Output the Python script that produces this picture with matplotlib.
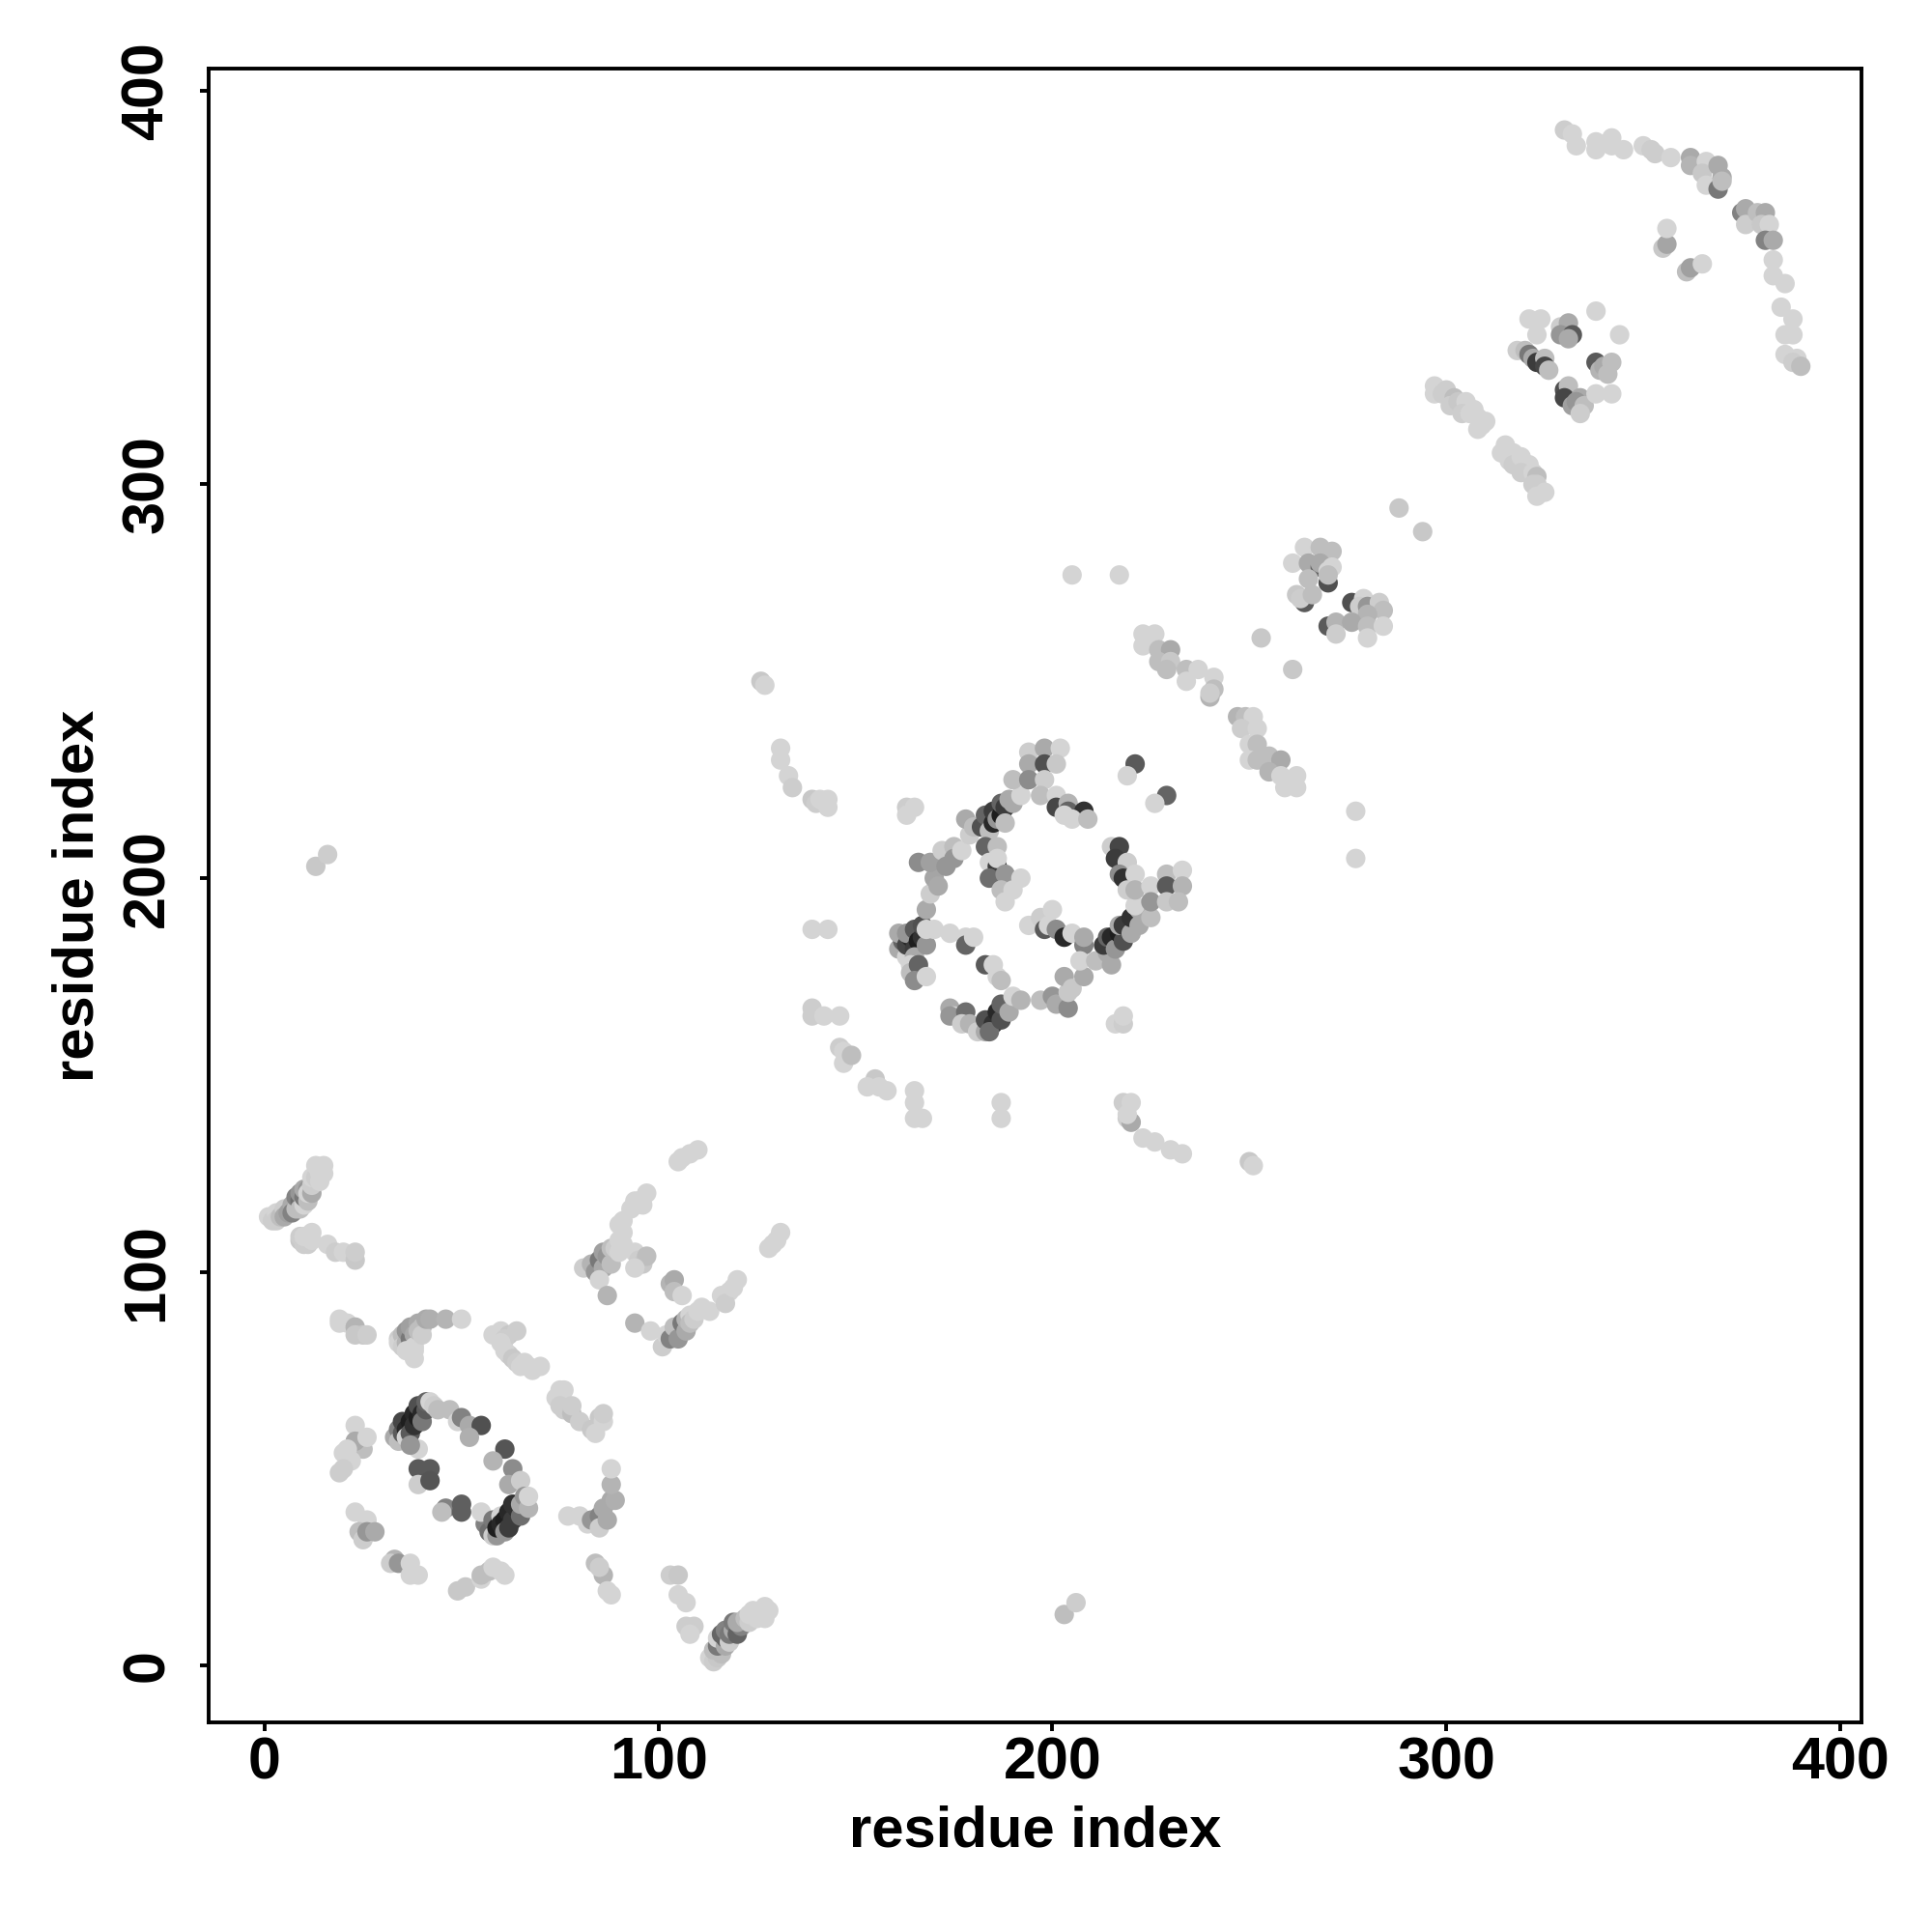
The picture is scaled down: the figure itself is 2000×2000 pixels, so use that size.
import numpy as np
import matplotlib
matplotlib.use("Agg")
import matplotlib.pyplot as plt

plt.rcParams['font.family'] = ['Liberation Sans', 'DejaVu Sans']

# contacts as (residue i, residue j, grey level 0-255), drawn in list order
hairpin_nw = [(1,114,212),(2,113,205),(3,115,212),(3,113,205),(4,114,190),(5,116,205),(5,114,170),(6,115,160),(7,117,170),
              (7,115,130),(8,116,190),(8,119,130),(9,118,110),(9,120,150),(9,116,190),(10,117,212),(10,119,120),(10,121,170),(11,121,150),
              (11,118,190),(11,120,212),(12,120,170),(12,122,205),(12,124,212),(13,124,205),(14,123,212),(14,125,212),(13,127,212),
              (15,127,212),(15,125,212),(9,108,200),(9,109,205),(10,107,205),(11,107,205),(10,109,212),(12,108,212),(12,110,212),
              (16,107,212),(18,105,205),(20,105,212),(23,103,200),(23,105,205)]
strand_b = [(19,88,212),(19,87,212),(21,87,212),(23,86,180),(23,84,200),(25,84,200),(26,84,205)]
strand_c = [(34,83,205),(34,82,212),(35,84,190),(35,81,205),(36,82,180),(36,85,150),(37,83,120),(37,86,160),(38,84,170),
            (38,81,212),(38,78,212),(38,80,212),(36,80,212),(39,87,170),(39,85,190),(40,86,190),(40,84,205),(41,88,170),(42,88,175),
            (46,88,180),(50,88,212)]
strand_d = [(58,84,212),(60,85,212),(62,84,200),(61,83,205),(64,85,205),(60,82,212),(62,79,205),(61,80,212),(63,78,200),(64,77,205),
            (65,76,212),(66,77,212),(67,76,212),(68,75,212),(70,76,212)]
strand_e = [(74,68,212),(75,70,212),(76,70,212),(75,68,212),(75,66,205),(76,65,205),(78,64,190),(80,62,205),(78,66,205),(83,60,200),(85,63,200),
            (84,59,212),(86,62,212),(86,64,205)]
ring_low = [(33,58,170),(34,60,130),(34,57,190),(35,59,90),(35,62,70),(36,60,40),(36,58,212),(37,62,30),(37,59,90),
            (38,64,40),(38,61,50),(39,63,30),(39,66,80),(40,64,40),(40,62,120),(41,65,90),(41,67,100),(42,67,212),(43,66,205),
            (39,55,212),(37,56,150),(44,65,190),(47,65,190),(49,62,212),(50,63,130),(52,61,170),(55,61,80),(52,58,175),
            (39,50,90),(42,50,90),(39,46,205),(42,47,85),(46,40,130),(45,39,190),(50,41,95),(50,39,95),
            (61,55,85),(58,52,180),(63,50,140),(62,46,170),(65,47,205),
            (56,36,130),(55,39,212),(57,34,110),(58,33,205),(59,33,150),(58,37,120),(59,35,30),(60,38,212),(60,36,40),(61,37,30),
            (61,34,150),(62,35,60),(62,39,40),(63,37,60),(63,41,50),(64,40,50),(65,38,110),(65,41,170),(66,43,150),(67,40,180),(67,43,212)]
ring_low_outer = [(23,61,212),(25,55,190),(23,57,170),(26,58,212),(20,54,212),(22,52,212),(19,49,205),(20,50,205),(21,55,212),
                  (23,39,212),(26,37,212),(24,34,190),(25,32,205),(26,34,150),(28,34,170),
                  (33,27,180),(32,26,205),(34,26,150),(37,26,212),(39,23,212),(37,23,212),
                  (49,19,200),(51,20,200),(55,22,212),(55,23,190),(57,24,190),(58,25,212),(60,24,212),(61,23,212),
                  (77,38,212),(80,38,212),(82,36,212),(83,37,150),(85,38,130),(85,35,205),(86,40,170),(87,37,170),
                  (88,42,170),(89,42,175),(88,46,180),(88,50,212),
                  (84,26,190),(86,23,180),(85,25,205),(87,19,212),(88,18,212)]
tail_low = [(103,23,205),(105,23,200),(105,18,212),(107,16,212),(107,10,205),(109,10,205),(108,8,212),
            (113,2,212),(114,1,205),(115,2,200),(114,4,190),(116,3,190),(115,5,120),(115,7,212),(117,5,170),
            (116,8,100),(117,7,100),(118,6,205),(117,9,130),(118,8,120),(119,9,170),(119,11,120),(120,8,100),(121,10,130),(120,11,170),
            (122,12,190),(123,11,205),(123,13,212),(125,13,212),(124,14,212),(127,15,212),(128,14,212),(127,12,212),(125,12,212)]
strand_p = [(105,128,212),(106,129,212),(108,130,212),(110,131,212),(93,116,212),(95,118,212),(97,120,212),(94,118,212),
            (96,117,212),(91,113,212),(90,112,212),(91,110,212),(81,101,205),(83,102,180),(84,100,150),(85,103,120),
            (86,105,160),(86,101,170),(87,104,150),(88,102,190),(88,106,190),(89,106,205),(90,108,212),(90,105,212),(91,107,212),(85,98,212),(87,94,180),
            (94,105,212),(95,103,205),(96,102,200),(97,104,190),(94,101,212)]
strand_q = [(103,97,180),(104,98,170),(104,95,190),(106,94,212),(94,87,180),(98,85,212),(101,81,205),(102,84,212),
            (103,83,130),(104,86,190),(105,83,150),(106,87,120),(107,85,170),(107,88,180),(108,89,212),(108,87,190),(109,88,205),
            (110,90,212),(111,91,212),(113,90,212),(116,94,212),(118,95,212),(117,92,205),(120,98,212),(119,96,212),
            (128,106,212),(129,107,212),(131,110,212),(130,108,212)]
stray_low = [(13,203,200),(16,206,205),(203,13,190),(206,16,205)]

ring_mid_arc = [(161,182,170),(162,184,100),(161,186,170),(163,180,212),(163,183,70),(164,185,40),(163,186,150),(165,182,60),
                (165,187,90),(166,184,30),(165,180,170),(167,185,50),(167,188,80),(168,183,150),(168,187,212),(170,187,212),(174,186,212),
                (178,185,212),(178,183,100),(180,185,212),(164,178,212),(164,176,190),(166,178,100),(165,174,140),(168,175,212),
                (168,192,170),(169,196,205),(170,200,165),(171,198,170),(166,204,140),(169,204,160),(172,207,205),
                (173,203,150),(175,208,190),(175,205,150),(177,207,212),(179,211,205),(178,215,170),(180,213,190),
                (182,213,80),(183,216,100),(184,212,190),(185,214,40),(185,217,60),(186,215,150),(187,216,30),
                (187,219,100),(188,218,60),(188,214,190),(189,220,170),(190,219,170),(192,221,212),(190,225,190),
                (194,232,205),(198,233,170),(202,233,212),(194,229,170),(198,229,80),(201,229,200),(194,225,140),
                (198,225,205),(197,221,190),(201,221,212),(201,218,70),(204,219,180),(204,217,100),(203,216,212),(208,217,50),
                (205,215,212),(209,215,190)]
ring_mid_inner = [(183,208,100),(186,208,190),(184,204,212),(186,203,60),(186,205,212),(184,200,110),(188,201,150),
                  (192,200,212),(187,197,190),(190,197,212),(188,194,212),
                  (194,188,212),(197,190,205),(200,192,212),(198,187,90),(199,188,212),(201,187,140),(203,185,40),(205,186,212),
                  (208,183,130),(208,185,170),(183,178,90),(185,178,212),(186,175,212),(187,174,190),
                  (221,229,90),(219,226,212),(229,221,100),(226,219,212)]
ring_mid_low = [(174,167,170),(175,165,212),(174,165,150),(178,166,110),(177,163,205),(179,163,180),(181,161,205),
                (183,161,170),(183,164,80),(185,163,50),(184,161,110),(186,166,40),(187,164,80),(187,168,100),
                (189,166,170),(190,170,212),(192,169,180),(197,169,190),(200,170,150),(201,168,170),(204,167,140),
                (204,171,200),(203,175,170),(205,172,200),(208,175,170),(207,179,212),(211,179,190),(215,178,170),
                (214,181,170),(213,183,60),(214,185,100),(215,185,40),(216,182,150),(217,186,30),(218,184,80),(217,188,170),(218,188,60),
                (220,186,170),(220,190,50),(222,188,170),(222,192,170),(221,193,212),(225,190,190),
                (215,208,205),(217,208,70),(216,205,60),(219,204,205),(217,201,140),(218,200,50),(221,201,212),
                (219,197,205),(221,197,180),(225,198,212),(225,194,150),(229,201,190),(233,202,212),(229,198,90),
                (233,198,180),(229,194,200),(232,194,190)]
outer_mid = [(126,250,200),(127,249,212),(131,233,212),(131,230,212),(133,226,212),(134,223,205),(139,220,200),
             (140,219,205),(141,220,212),(143,220,212),(143,218,212),(163,218,205),(165,218,212),(163,216,212),
             (139,187,212),(143,187,212),(139,167,205),(139,165,205),(142,165,212),(146,165,212),
             (146,157,205),(147,156,212),(147,153,212),(149,155,190),(155,149,200),(153,147,212),(156,147,212),(158,146,212),
             (165,146,212),(165,143,212),(165,139,212),(167,139,212),(187,143,212),(187,139,212),
             (218,143,205),(220,143,212),(219,139,205),(220,138,170),(219,140,212),(223,134,212),(226,133,212),(230,131,212),(233,130,212),
             (250,128,200),(251,127,212),(216,163,212),(218,163,205),(218,165,212),
             (277,217,212),(277,205,212),(205,277,212),(217,277,212)]
strand_mid_up = [(223,262,212),(226,262,212),(223,259,212),(227,258,190),(230,258,170),(227,255,190),(230,255,200),
                 (229,253,190),(234,253,190),(237,253,212),(234,250,212),(241,251,212),(241,248,190),(240,246,180),(240,247,205),
                 (247,241,180),(249,241,190),(251,241,212),(248,238,205),(252,238,212),(250,234,212),(252,234,190),
                 (250,230,212),(252,230,190),(255,231,190),(258,230,170),(255,227,180),(258,226,212),(262,226,212),
                 (259,223,212),(262,223,212),(253,261,200),(261,253,200)]
upper_pair = [(288,294,200),(294,288,200),(264,284,212),(261,280,212),(268,284,190),(271,283,190),(265,280,170),(268,279,100),
              (268,280,170),(270,278,212),(271,279,212),(265,276,190),(270,275,80),(270,277,190),(262,272,200),(264,270,90),
              (263,271,205),(266,272,190),(276,270,80),(279,271,212),(278,269,205),(280,269,150),(283,270,205),(284,268,190),
              (280,267,180),(270,264,90),(272,265,180),(272,262,205),(276,265,170),(280,264,190),(280,261,212),(284,264,212)]
upper_strand = [(297,325,212),(297,323,212),(299,323,205),(300,324,205),(302,322,190),(301,320,205),(303,321,200),(305,321,212),(304,318,205),
                (306,318,212),(307,319,212),(308,317,212),(310,316,212),(308,314,212),(309,315,212),
                (315,310,212),(314,308,212),(317,308,212),(316,306,212),(317,305,205),(319,307,212),(321,305,212),(319,303,205),(322,303,212),(323,302,190),(322,300,205),
                (323,300,205),(325,298,212),(323,297,212)]
upper_ring = [(318,334,205),(320,334,190),(321,333,120),(322,332,170),(323,331,60),(325,332,190),(325,330,70),(326,329,190),
              (321,342,212),(324,342,212),(323,338,212),(329,340,205),(331,341,170),(329,338,150),(332,338,90),(331,337,170),
              (338,344,212),(344,338,212),(338,331,90),(339,329,180),(340,330,170),(342,331,190),(341,328,190),
              (330,324,80),(331,325,190),(330,322,70),(332,320,160),(334,322,170),(333,321,150),(335,320,190),(334,318,205),
              (338,323,212),(342,323,212)]
upper_arc = [(330,390,205),(332,389,212),(333,386,212),(338,387,212),(338,385,212),(342,388,212),(342,386,212),(345,385,212),
             (350,386,212),(352,385,205),(353,384,205),(357,383,212),(362,383,170),(362,381,180),(366,382,212),(365,379,200),
             (366,376,212),(369,375,120),(369,381,170),(370,378,170),(370,377,190),
             (375,369,130),(376,370,170),(376,366,205),(379,369,190),(381,369,170),(380,366,200),(382,366,212),(381,362,130),(383,362,170),
             (383,357,212),(383,353,212),(386,351,212),(385,345,212),(388,342,212),(386,338,212),(388,338,212),
             (386,333,212),(389,332,212),(388,331,205),(390,330,190),
             (355,360,200),(356,361,165),(356,365,212),(361,354,190),(362,355,160),(365,356,212)]

clusters = [hairpin_nw, strand_b, strand_c, strand_d, strand_e, ring_low, ring_low_outer, tail_low, strand_p, strand_q,
            stray_low, outer_mid, ring_mid_arc, ring_mid_inner, ring_mid_low, strand_mid_up, upper_pair, upper_strand,
            upper_ring, upper_arc]
ticks = [0, 100, 200, 300, 400]

fig = plt.figure(figsize=(20, 20), dpi=100)
ax = fig.add_axes([0.108, 0.1085, 0.8555, 0.856])

for c in clusters:
    res_i, res_j, grey = np.array(c).T
    ax.scatter(res_i, res_j, c=grey, cmap='gray', vmin=0, vmax=255, s=210, linewidths=0, zorder=3)

ax.set_xlim(-14.2, 405.4)
ax.set_ylim(-14.4, 405.6)
ax.set_xticks(ticks)
ax.set_yticks(ticks)
ax.tick_params(length=6.5, width=2.8, labelsize=44)
ax.tick_params(axis='x', pad=4)
ax.tick_params(axis='y', pad=18)
for lab in ax.get_xticklabels() + ax.get_yticklabels():
    lab.set_fontweight('bold')
for lab in ax.get_yticklabels():
    lab.set_rotation(90)
    lab.set_va('center')
for s in ax.spines.values():
    s.set_linewidth(2.8)

ax.set_xlabel('residue index', fontsize=43, fontweight='bold', labelpad=10)
ax.set_ylabel('residue index', fontsize=43, fontweight='bold', labelpad=12)

fig.savefig('out.png', dpi=100)
